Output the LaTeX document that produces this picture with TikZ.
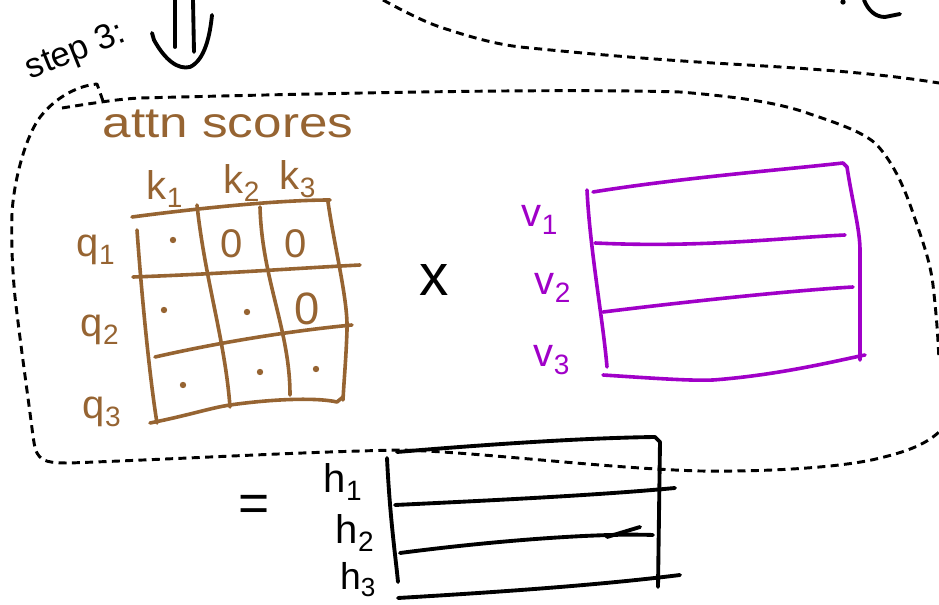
\documentclass[tikz,border=0pt]{standalone}
\usepackage{fontspec}
\setmainfont{Liberation Sans}
\definecolor{brn}{RGB}{150,100,50}
\definecolor{prp}{RGB}{160,0,200}
\begin{document}
\begin{tikzpicture}[x=0.75pt,y=-0.75pt,line cap=round,line join=round,
  inkline/.style={line width=2.9pt,black},
  brline/.style={line width=2.7pt,brn},
  prline/.style={line width=2.7pt,prp},
  dashline/.style={line width=2.2pt,dash pattern=on 6pt off 4pt,line cap=butt},
  lbl/.style={inner sep=0pt,font=\fontsize{30}{32}\selectfont},
  blbl/.style={lbl,text=brn},
  plbl/.style={lbl,text=prp},
  dotmark/.style={fill=brn}]
\useasboundingbox (0,0) rectangle (939,605);

% step 3 label and down arrow
\node[inner sep=0pt,rotate=22,font=\fontsize{26}{28}\selectfont] (steplabel) at (76,52) {step 3:};
\draw[inkline] (175,0) -- (175,47);
\draw[inkline] (193,0) -- (194,52);
\draw[inkline] (152,33) -- (154,40) .. controls (165,60) and (178,70) .. (190,67) .. controls (205,60) and (210,35) .. (212,15);
% top right fragment
\fill (843,2) circle[radius=2pt];
\draw[inkline] (864,0) .. controls (868,10) and (875,17) .. (885,17) -- (900,14);

% dashed separator at top
\draw[dashline] (383,0) .. controls (405,12) and (425,22) .. (440,27) .. controls (470,37) and (495,44) .. (520,47) .. controls (600,55) and (650,59) .. (713,63) .. controls (800,68) and (870,72) .. (939,83);

% dashed blob
\draw[dashline] (103,101) -- (97,84) .. controls (75,86) and (52,100) .. (38,120)
  .. controls (25,140) and (14,180) .. (12,213)
  .. controls (11,250) and (13,275) .. (15,297)
  .. controls (20,340) and (27,390) .. (30,413)
  .. controls (33,435) and (34,448) .. (37,453)
  .. controls (42,462) and (50,463) .. (70,463)
  .. controls (200,458) and (300,452) .. (400,450)
  .. controls (480,452) and (600,468) .. (700,471)
  .. controls (780,472) and (850,466) .. (880,458)
  .. controls (905,452) and (925,445) .. (939,432);
\draw[dashline] (62,108) .. controls (100,102) and (120,99) .. (140,98)
  .. controls (300,94) and (550,88) .. (680,92)
  .. controls (740,97) and (780,103) .. (810,114)
  .. controls (840,124) and (865,133) .. (877,145)
  .. controls (895,165) and (905,190) .. (913,213)
  .. controls (922,240) and (930,260) .. (933,285)
  .. controls (937,320) and (938,340) .. (939,360);

% attn scores title
\node[blbl,font=\fontsize{32}{34}\selectfont,xscale=1.2] (title) at (228,124) {attn scores};

% column and row labels
\node[blbl] (k1) at (165,189) {k\textsubscript{1}};
\node[blbl] (k2) at (242,183) {k\textsubscript{2}};
\node[blbl] (k3) at (298,179) {k\textsubscript{3}};
\node[blbl] (q1) at (96,250) {q\textsubscript{1}};
\node[blbl] (q2) at (100,330) {q\textsubscript{2}};
\node[blbl] (q3) at (102,412) {q\textsubscript{3}};

% grid
\draw[brline] (132,217) .. controls (200,208) and (280,200) .. (330,200);
\draw[brline] (133,277) .. controls (220,274) and (300,268) .. (360,265);
\draw[brline] (155,357) .. controls (230,340) and (300,330) .. (352,325);
\draw[brline] (150,423) .. controls (190,415) and (210,408) .. (230,405) .. controls (280,398) and (320,398) .. (337,402) -- (343,397);
\draw[brline] (137,230) .. controls (142,300) and (150,380) .. (157,423);
\draw[brline] (197,205) .. controls (205,280) and (225,340) .. (230,407);
\draw[brline] (260,207) .. controls (262,280) and (290,330) .. (290,395);
\draw[brline] (328,202) .. controls (335,250) and (348,300) .. (347,330) .. controls (346,360) and (344,380) .. (343,400);

% cell contents
\fill[dotmark] (173,240) circle[radius=2.4pt];
\node[blbl] (c12) at (232,244) {0};
\node[blbl] (c13) at (296,244) {0};
\fill[dotmark] (164,310) circle[radius=2.4pt];
\fill[dotmark] (247,312) circle[radius=2.4pt];
\node[blbl,font=\fontsize{34}{36}\selectfont] (c23) at (307,309) {0};
\fill[dotmark] (183,385) circle[radius=2.4pt];
\fill[dotmark] (260,372) circle[radius=2.4pt];
\fill[dotmark] (316,369) circle[radius=2.4pt];

% times sign
\node[lbl,font=\fontsize{44}{46}\selectfont] (times) at (434,280) {x};

% V matrix
\node[plbl] (v1) at (540,220) {v\textsubscript{1}};
\node[plbl] (v2) at (553,288) {v\textsubscript{2}};
\node[plbl] (v3) at (552,360) {v\textsubscript{3}};
\draw[prline] (587,190) .. controls (590,250) and (603,320) .. (607,367);
\draw[prline] (593,192) .. controls (680,178) and (780,170) .. (843,163) -- (847,167) .. controls (852,200) and (860,230) .. (860,250) -- (860,360);
\draw[prline] (595,243) .. controls (700,248) and (780,238) .. (845,235);
\draw[prline] (603,312) .. controls (700,300) and (800,290) .. (853,287);
\draw[prline] (603,375) .. controls (650,378) and (690,381) .. (713,380) .. controls (780,375) and (840,360) .. (865,355);

% equals sign
\node[lbl,font=\fontsize{40}{42}\selectfont] (equals) at (254,508) {=};

% H matrix
\node[lbl] (h1) at (343,482) {h\textsubscript{1}};
\node[lbl] (h2) at (355,533) {h\textsubscript{2}};
\node[lbl,font=\fontsize{28}{30}\selectfont] (h3) at (358,580) {h\textsubscript{3}};
\draw[inkline] (387,458) .. controls (390,520) and (396,560) .. (398,582);
\draw[inkline] (397,452) .. controls (480,445) and (580,438) .. (655,437) -- (660,442) -- (658,587);
\draw[inkline] (395,505) .. controls (500,500) and (600,495) .. (675,488);
\draw[inkline] (400,553) .. controls (500,540) and (600,533) .. (653,535);
\draw[inkline] (607,537) -- (640,527);
\draw[inkline] (398,598) .. controls (500,592) and (600,585) .. (680,575);
\end{tikzpicture}
\end{document}
